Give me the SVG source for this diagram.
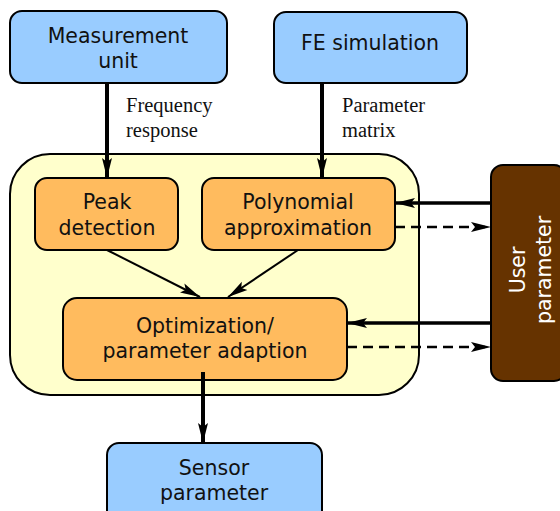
<svg xmlns="http://www.w3.org/2000/svg" width="560" height="511" viewBox="0 0 560 511">
<defs>
<marker id="ah" viewBox="0 0 20 10" refX="20" refY="5" markerWidth="20" markerHeight="11" markerUnits="userSpaceOnUse" orient="auto">
<path d="M0,0 L20,5 L0,10 L4,5 Z" fill="#000"/>
</marker>
</defs>
<style>
.box{stroke:#000;stroke-width:2}
.blue{fill:#99ccff}
.org{fill:#ffbb5e}
.t{font-family:"DejaVu Sans",Verdana,sans-serif;font-size:20.5px;text-anchor:middle;fill:#111}
.lbl{font-family:"Liberation Serif","Times New Roman",serif;font-size:20.5px;fill:#111}
.c{stroke:#000;fill:none}
</style>
<rect x="10" y="154" width="409" height="241" rx="40" fill="#ffffcc" stroke="#000" stroke-width="2"/>
<g id="measurement"><rect class="box blue" x="10" y="11" width="217" height="72" rx="12"/><text class="t" x="118" y="43">Measurement</text><text class="t" x="118" y="68">unit</text></g>
<g id="fe"><rect class="box blue" x="274" y="12" width="193" height="71" rx="12"/><text class="t" x="370" y="50">FE simulation</text></g>
<g id="peak"><rect class="box org" x="35" y="178" width="143" height="72" rx="12"/><text class="t" x="107" y="209">Peak</text><text class="t" x="107" y="235">detection</text></g>
<g id="poly"><rect class="box org" x="202" y="178" width="193" height="72" rx="12"/><text class="t" x="298" y="209">Polynomial</text><text class="t" x="298" y="235">approximation</text></g>
<g id="opt"><rect class="box org" x="63" y="298" width="284" height="82" rx="14"/><text class="t" x="205" y="333">Optimization/</text><text class="t" x="205" y="358">parameter adaption</text></g>
<g id="user"><rect x="491" y="165" width="75" height="216" rx="12" fill="#663300" stroke="#000" stroke-width="2"/><text class="t" style="fill:#fff" transform="translate(525,270) rotate(-90)" x="0" y="0">User</text><text class="t" style="fill:#fff" transform="translate(551,270) rotate(-90)" x="0" y="0">parameter</text></g>
<g id="sensor"><rect class="box blue" x="107" y="443" width="215" height="80" rx="12"/><text class="t" x="214" y="475">Sensor</text><text class="t" x="214" y="500">parameter</text></g>
<g id="connectors">
<line class="c" x1="107" y1="83" x2="107" y2="178" stroke-width="4" marker-end="url(#ah)"/>
<line class="c" x1="322" y1="83" x2="322" y2="178" stroke-width="4" marker-end="url(#ah)"/>
<line class="c" x1="107" y1="250" x2="200" y2="297" stroke-width="2" marker-end="url(#ah)"/>
<line class="c" x1="298" y1="250" x2="228" y2="297" stroke-width="2" marker-end="url(#ah)"/>
<line class="c" x1="491" y1="203" x2="395" y2="203" stroke-width="3.5" marker-end="url(#ah)"/>
<line class="c" x1="395" y1="227" x2="491" y2="227" stroke-width="2.5" stroke-dasharray="10,6" marker-end="url(#ah)"/>
<line class="c" x1="491" y1="323" x2="347" y2="323" stroke-width="3.5" marker-end="url(#ah)"/>
<line class="c" x1="347" y1="347" x2="491" y2="347" stroke-width="2.5" stroke-dasharray="10,6" marker-end="url(#ah)"/>
<line class="c" x1="203" y1="372" x2="203" y2="443" stroke-width="4" marker-end="url(#ah)"/>
</g>
<text class="lbl" x="126" y="112">Frequency</text>
<text class="lbl" x="126" y="137">response</text>
<text class="lbl" x="342" y="112">Parameter</text>
<text class="lbl" x="342" y="137">matrix</text>
</svg>
